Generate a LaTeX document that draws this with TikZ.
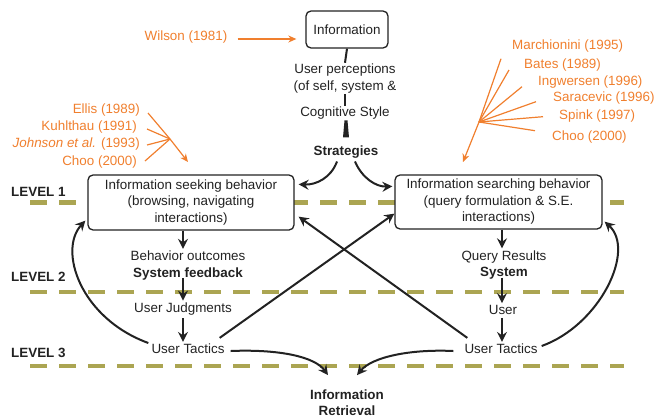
\documentclass[tikz,border=0pt]{standalone}
\usepackage{fontspec}
\setmainfont{Liberation Sans}
\usetikzlibrary{arrows.meta,calc}
\definecolor{citeorange}{HTML}{F07F2E}
\definecolor{levelolive}{HTML}{ABA552}
\definecolor{ink}{HTML}{222222}
\begin{document}
\begin{tikzpicture}[x=1pt,y=-1pt,
  txt/.style={font=\fontsize{13.4}{16.5}\selectfont, text=ink, inner sep=1pt, align=center},
  bx/.style={txt, draw=ink, fill=white, line width=1.3pt, rounded corners=5pt, inner sep=2pt},
  arr/.style={draw=ink, line width=2pt, -{Stealth[length=10pt,width=10pt,inset=3.5pt]}},
  plain/.style={draw=ink, line width=2pt},
  cite/.style={txt, text=citeorange},
  carr/.style={draw=citeorange, line width=1.2pt},
  carrtip/.style={carr, -{Stealth[length=8pt,width=7pt,inset=2.5pt]}},
  levelline/.style={draw=levelolive, line width=4.5pt, dash pattern=on 17pt off 12pt},
  levellbl/.style={txt, font=\fontsize{13.4}{16.5}\selectfont\bfseries, anchor=west}]
\useasboundingbox (0,0) rectangle (657,418);

% level separators
\coordinate (lvA1) at (30,202.7);  \coordinate (lvB1) at (624,202.7);
\coordinate (lvA2) at (30,292);    \coordinate (lvB2) at (624,292);
\coordinate (lvA3) at (30,366);    \coordinate (lvB3) at (624,366);
\draw[levelline] (lvA1) -- (lvB1);
\draw[levelline] (lvA2) -- (lvB2);
\draw[levelline] (lvA3) -- (lvB3);
\node[levellbl] (lv1) at (10,191.7) {LEVEL 1};
\node[levellbl] (lv2) at (10,276.7) {LEVEL 2};
\node[levellbl] (lv3) at (10,353) {LEVEL 3};

% top chain
\node[bx, minimum width=82pt, minimum height=37pt] (info) at (347,29.5) {Information};
\node[txt] (perc) at (345,78.5) {User perceptions\\(of self, system \&};
\node[txt] (cog) at (345,113) {Cognitive Style};
\node[txt, font=\fontsize{13.4}{16.5}\selectfont\bfseries] (strat) at (346,152) {Strategies};
\draw[plain] (info.south) -- (perc.north);
\draw[plain] (perc.south) -- (cog.north);
\fill[ink] ($(cog.south)+(-0.5,0)$) -- ++(3,0) -- ++(1.5,17) -- ++(-6,0) -- cycle;

% behaviour boxes
\node[bx, minimum width=206pt, minimum height=55pt] (seek) at (191,202.5)
  {Information seeking behavior\\(browsing, navigating\\interactions)};
\node[bx, minimum width=207pt, minimum height=54pt] (srch) at (498.5,202)
  {Information searching behavior\\(query formulation \& S.E.\\interactions)};

\draw[arr] ($(strat.south)+(-9,2)$) .. controls (331,178) and (316,185) .. ($(seek.north east)+(4,10)$);
\draw[arr] ($(strat.south)+(9,2)$) .. controls (362,178) and (376,187) .. ($(srch.north west)+(-2,12)$);

% left column
\coordinate (lcol) at (183,0);
\node[txt] (outc) at (188,265.5) {Behavior outcomes\\\textbf{System feedback}};
\node[txt] (judg) at (183,309) {User Judgments};
\node[txt] (ltac) at (188,349) {User Tactics};
\draw[arr] (seek.south -| lcol) -- ($(outc.north -| lcol)+(0,-1)$);
\draw[arr] ($(outc.south -| lcol)+(0,-3)$) -- ($(judg.north -| lcol)+(0,-1)$);
\draw[arr] ($(judg.south -| lcol)+(0,2)$) -- ($(ltac.north -| lcol)+(0,-1)$);

% right column
\coordinate (rcol) at (502,0);
\node[txt] (qres) at (504,265) {Query Results\\\textbf{System}};
\node[txt] (usr) at (503,310) {User};
\node[txt] (rtac) at (501,349) {User Tactics};
\draw[arr] (srch.south -| rcol) -- ($(qres.north -| rcol)+(0,-1)$);
\draw[arr] ($(qres.south -| rcol)+(0,-3)$) -- ($(usr.north -| rcol)+(0,-1)$);
\draw[arr] ($(usr.south -| rcol)+(0,2)$) -- ($(rtac.north -| rcol)+(0,-1)$);

% feedback loops
\draw[arr] ($(ltac.west)+(-2,-6)$) .. controls (80,318) and (58,250) .. ($(seek.south west)+(-2,-10)$);
\draw[arr] ($(rtac.east)+(3,-3)$) .. controls (600,325) and (636,250) .. ($(srch.south east)+(2,-8)$);

% crossing links
\draw[arr] ($(ltac.north east)+(-6,-5)$) -- ($(srch.south west)+(0,-16)$);
\draw[arr] ($(rtac.north west)+(4,-5)$) -- ($(seek.south east)+(4,-14)$);

% retrieval
\node[txt, font=\fontsize{13.4}{16.5}\selectfont\bfseries] (ir) at (347,402.5) {Information\\Retrieval};
\draw[arr] ($(ltac.east)+(5,2)$) .. controls (280,349) and (315,357) .. ($(ir.north)+(-19,-13)$);
\draw[arr] ($(rtac.west)+(-10,2)$) .. controls (410,349) and (372,357) .. ($(ir.north)+(10,-13)$);

% citations
\node[cite] (wilson) at (186,37) {Wilson (1981)};
\draw[carrtip] ($(wilson.east)+(9,2)$) -- ($(info.west |- wilson.east)+(-9,2)$);

\node[cite, anchor=east] (ellis) at (141,110) {Ellis (1989)};
\node[cite, anchor=east] (kuhl) at (138,127) {Kuhlthau (1991)};
\node[cite, anchor=east] (john) at (141,144) {\textit{Johnson et al.} (1993)};
\node[cite, anchor=east] (chooL) at (138,162) {Choo (2000)};
\coordinate (hubL) at (170,139);
\coordinate (tipL) at (188,162);
\draw[carr] ($(ellis.east)+(7,3)$) -- (hubL);
\draw[carr] ($(kuhl.east)+(9,2)$) -- (hubL);
\draw[carr] ($(john.east)+(6,1)$) -- (hubL);
\draw[carr] ($(chooL.east)+(7,-1)$) -- (hubL);
\draw[carrtip] (hubL) -- (tipL);

\node[cite, anchor=west] (march) at (511,45.7) {Marchionini (1995)};
\node[cite, anchor=west] (bates) at (523,65) {Bates (1989)};
\node[cite, anchor=west] (ingw) at (537,81.7) {Ingwersen (1996)};
\node[cite, anchor=west] (sara) at (552,97.7) {Saracevic (1996)};
\node[cite, anchor=west] (spink) at (558,115.7) {Spink (1997)};
\node[cite, anchor=west] (chooR) at (551,136.7) {Choo (2000)};
\coordinate (hubR) at (479,122);
\coordinate (tipR) at (463,162);
\draw[carr] (hubR) -- ($(march.west)+(-10,13)$);
\draw[carr] (hubR) -- ($(bates.west)+(-14,5)$);
\draw[carr] (hubR) -- ($(ingw.west)+(-15,5)$);
\draw[carr] (hubR) -- ($(sara.west)+(-16,4)$);
\draw[carr] (hubR) -- ($(spink.west)+(-15,1)$);
\draw[carr] (hubR) -- ($(chooR.west)+(-16,-6)$);
\draw[carrtip] (hubR) -- (tipR);
\end{tikzpicture}
\end{document}
